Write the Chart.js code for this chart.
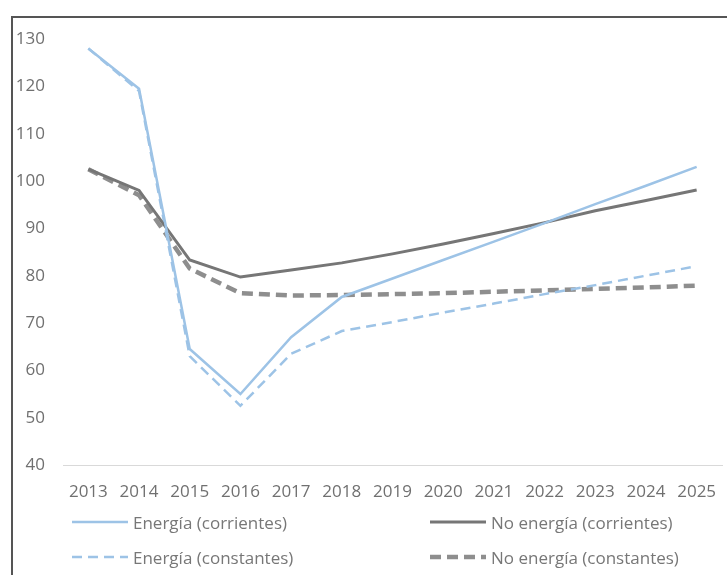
<!DOCTYPE html>
<html>
<head>
<meta charset="utf-8">
<script src="https://cdn.jsdelivr.net/npm/chart.js@4/dist/chart.umd.min.js"></script>
<style>
  body { margin: 0; background: #fff; }
  #wrap { position: relative; width: 727px; height: 575px; overflow: hidden; background: #fff; }
  #frame { position: absolute; left: 11px; top: 16px; right: -5px; bottom: -5px;
           border-left: 2px solid #555; border-top: 2px solid #555; }
  #chart { position: absolute; left: 0; top: 0; }
  .item { position: absolute; height: 20px; display: flex; align-items: center;
          font-family: "Open Sans", sans-serif; font-size: 17px; color: #777; white-space: nowrap; }
  .item svg { margin-right: 5px; }
</style>
</head>
<body>
<div id="wrap">
  <div id="frame"></div>
  <canvas id="chart" width="727" height="575"></canvas>
  <div id="legend"></div>
</div>
<script>
const YEARS = ["2013", "2014", "2015", "2016", "2017", "2018", "2019", "2020", "2021", "2022", "2023", "2024", "2025"];

const ENERGIA_CORRIENTES = [128, 119.5, 64.5, 55, 67, 75.5, 79.4, 83.3, 87.2, 91.1, 95.1, 99, 103];
const ENERGIA_CONSTANTES = [128, 119, 63, 52.5, 63.5, 68.3, 70.2, 72.2, 74.1, 76.1, 78, 80, 82];
const NO_ENERGIA_CORRIENTES = [102.5, 98, 83.3, 79.7, 81.2, 82.7, 84.6, 86.7, 88.9, 91.2, 93.7, 95.9, 98.1];
const NO_ENERGIA_CONSTANTES = [102.5, 97, 81.5, 76.3, 75.8, 75.9, 76.1, 76.3, 76.6, 76.9, 77.2, 77.5, 77.9];

const Y_MIN = 40;
const Y_MAX = 130;
const Y_STEP = 10;

const BLUE = "#9dc3e6";
const GRAY = "#767676";
const GRAY_DASH = "#8e8e8e";

const SERIES = [
  { label: "Energía (corrientes)", data: ENERGIA_CORRIENTES, color: BLUE, width: 2.5, dash: [] },
  { label: "No energía (corrientes)", data: NO_ENERGIA_CORRIENTES, color: GRAY, width: 3, dash: [] },
  { label: "Energía (constantes)", data: ENERGIA_CONSTANTES, color: BLUE, width: 2.5, dash: [10, 6] },
  { label: "No energía (constantes)", data: NO_ENERGIA_CONSTANTES, color: GRAY_DASH, width: 4.5, dash: [11, 6] },
];

const TICK_FONT = { family: "Open Sans", size: 17 };

const config = {
  type: "line",
  data: {
    labels: YEARS,
    datasets: SERIES.map((s) => ({
      label: s.label,
      data: s.data,
      borderColor: s.color,
      backgroundColor: s.color,
      borderWidth: s.width,
      borderDash: s.dash,
      pointRadius: 0,
      tension: 0,
    })),
  },
  options: {
    responsive: false,
    animation: false,
    layout: { padding: { top: 39, right: 5, bottom: 65, left: 0 } },
    plugins: {
      legend: { display: false },
      tooltip: { enabled: false },
    },
    scales: {
      x: {
        offset: true,
        grid: { display: false, drawTicks: false },
        border: { display: true, color: "#d9d9d9", width: 1 },
        ticks: { color: "#707070", padding: 17, maxRotation: 0, autoSkip: false, font: TICK_FONT },
        afterFit: (scale) => {
          scale.height = 45;
          scale.paddingLeft = 0;
          scale.paddingRight = 0;
        },
      },
      y: {
        min: Y_MIN,
        max: Y_MAX,
        grid: { display: false, drawTicks: false },
        border: { display: false },
        ticks: { stepSize: Y_STEP, color: "#707070", padding: 18, font: TICK_FONT },
        afterFit: (scale) => { scale.width = 63; },
      },
    },
  },
};

const ctx = document.getElementById("chart").getContext("2d");
new Chart(ctx, config);

// legend in two columns, like the original
const LEGEND_POS = [
  [72, 512],
  [430, 512],
  [72, 547],
  [430, 547],
];

const legend = document.getElementById("legend");
SERIES.forEach((s, i) => {
  const div = document.createElement("div");
  div.className = "item";
  div.style.left = LEGEND_POS[i][0] + "px";
  div.style.top = LEGEND_POS[i][1] + "px";
  const len = 56;
  div.innerHTML =
    `<svg width="${len}" height="8"><line x1="0" y1="4" x2="${len}" y2="4" stroke="${s.color}" ` +
    `stroke-width="${s.width}" stroke-dasharray="${s.dash.length ? s.dash.join(" ") : "none"}"/></svg>` +
    `<span></span>`;
  div.querySelector("span").textContent = s.label;
  legend.appendChild(div);
});
</script>
</body>
</html>
